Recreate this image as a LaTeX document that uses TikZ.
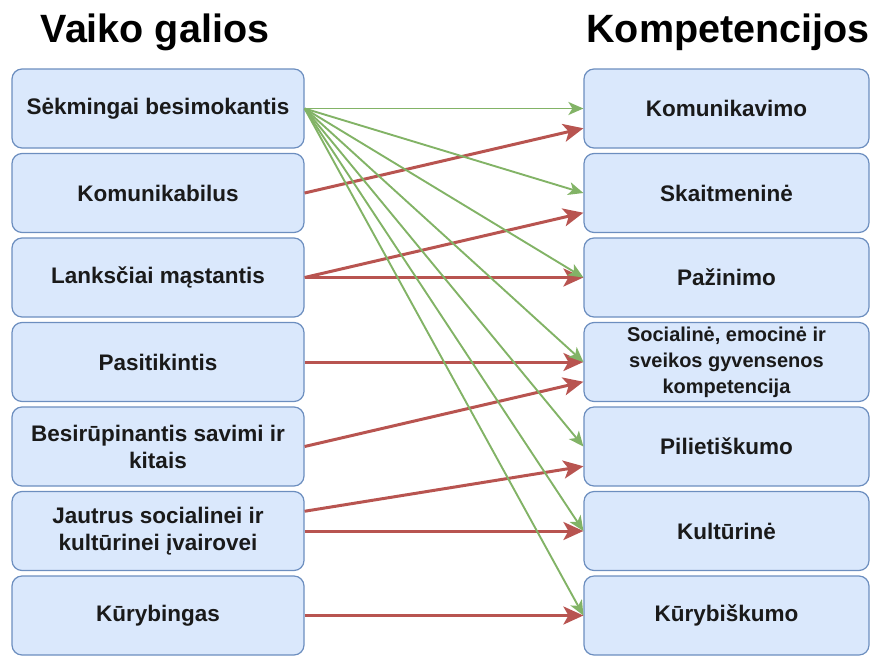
\documentclass[tikz,border=0pt]{standalone}
\usepackage{fontspec}
\setmainfont{Liberation Sans}
\usetikzlibrary{arrows.meta}
\definecolor{boxfill}{HTML}{DAE8FC}
\definecolor{boxline}{HTML}{6C8EBF}
\definecolor{grn}{HTML}{82B366}
\definecolor{rd}{HTML}{B85450}
\definecolor{txt}{HTML}{1A1A1A}
\begin{document}
\begin{tikzpicture}[x=1pt,y=-1pt,
  box/.style={draw=boxline,fill=boxfill,line width=1.2pt,rounded corners=10pt,
    minimum height=79pt,inner sep=2pt,align=center,text=txt,
    font=\fontsize{22.5}{27}\selectfont\bfseries},
  lbox/.style={box,minimum width=292pt},
  rbox/.style={box,minimum width=285pt},
  title/.style={font=\fontsize{39.5}{44}\selectfont\bfseries,text=black},
  garrow/.style={draw=grn,line width=1.9pt,-{Stealth[length=15pt,width=13pt,inset=4pt]}},
  rarrow/.style={draw=rd,line width=3pt,-{Stealth[length=20pt,width=18pt,inset=5pt]}}
]
\useasboundingbox (0,0) rectangle (872,656);
\node[title] (t1) at (155,32) {Vaiko galios};
\node[title] (t2) at (728,32) {Kompetencijos};

\node[lbox] (L1) at (158,108.5) {Sėkmingai besimokantis};
\node[lbox] (L2) at (158,193) {Komunikabilus};
\node[lbox] (L3) at (158,277.5) {Lanksčiai mąstantis};
\node[lbox] (L4) at (158,362) {Pasitikintis};
\node[lbox] (L5) at (158,446.5) {Besirūpinantis savimi ir\\kitais};
\node[lbox] (L6) at (158,531) {Jautrus socialinei ir\\kultūrinei įvairovei};
\node[lbox] (L7) at (158,615.5) {Kūrybingas};

\node[rbox] (R1) at (726.5,108.5) {Komunikavimo};
\node[rbox] (R2) at (726.5,193) {Skaitmeninė};
\node[rbox] (R3) at (726.5,277.5) {Pažinimo};
\node[rbox,font=\fontsize{20}{26}\selectfont\bfseries] (R4) at (726.5,362) {Socialinė, emocinė ir\\sveikos gyvensenos\\kompetencija};
\node[rbox] (R5) at (726.5,446.5) {Pilietiškumo};
\node[rbox] (R6) at (726.5,531) {Kultūrinė};
\node[rbox] (R7) at (726.5,615.5) {Kūrybiškumo};

% red arrows
\draw[rarrow] (L2.east) -- ([yshift=-19.75pt]R1.west);
\draw[rarrow] (L3.east) -- ([yshift=-19.75pt]R2.west);
\draw[rarrow] (L3.east) -- (R3.west);
\draw[rarrow] (L4.east) -- (R4.west);
\draw[rarrow] (L5.east) -- ([yshift=-19.75pt]R4.west);
\draw[rarrow] ([yshift=19.75pt]L6.east) -- ([yshift=-19.75pt]R5.west);
\draw[rarrow] (L6.east) -- (R6.west);
\draw[rarrow] (L7.east) -- (R7.west);

% green arrows
\foreach \r in {R1,R2,R3,R4,R5,R6,R7}
  \draw[garrow] (L1.east) -- (\r.west);
\end{tikzpicture}
\end{document}
